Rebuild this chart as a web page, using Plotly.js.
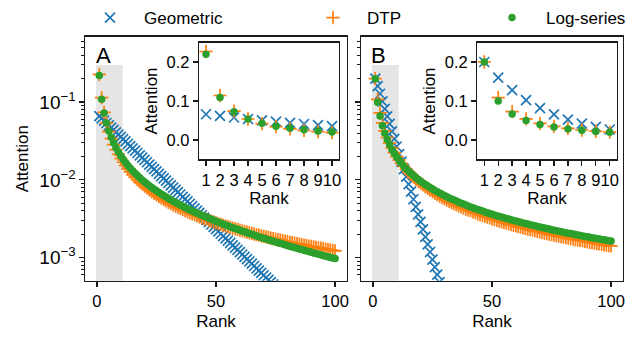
<!DOCTYPE html>
<html><head><meta charset="utf-8">
<script src="https://cdn.plot.ly/plotly-3.0.1.min.js"></script>
<style>html,body{margin:0;padding:0;background:#fff;}#chart{width:643px;height:339px;}</style>
</head><body><div id="chart"></div>
<script>
const rank = [1,2,3,4,5,6,7,8,9,10,11,12,13,14,15,16,17,18,19,20,
21,22,23,24,25,26,27,28,29,30,31,32,33,34,35,36,37,38,39,40,
41,42,43,44,45,46,47,48,49,50,51,52,53,54,55,56,57,58,59,60,
61,62,63,64,65,66,67,68,69,70,71,72,73,74,75,76,77,78,79,80,
81,82,83,84,85,86,87,88,89,90,91,92,93,94,95,96,97,98,99,100];

const geomA = [0.0660,0.0616,0.0576,0.0538,0.0502,0.0469,0.0438,0.0409,0.0382,0.0357,
0.03334,0.03114,0.02909,0.02716,0.02537,0.02370,0.02213,0.02067,0.01931,0.01803,
0.01684,0.01573,0.01469,0.01372,0.01282,0.01197,0.01118,0.01044,0.009754,0.009110,
0.008509,0.007948,0.007423,0.006933,0.006476,0.006048,0.005649,0.005277,0.004928,0.004603,
0.004299,0.004016,0.003750,0.003503,0.003272,0.003056,0.002854,0.002666,0.002490,0.002325,
0.002172,0.002028,0.001895,0.001770,0.001653,0.001544,0.001441,0.001346,0.001258,0.001175,
0.001097,0.001025,0.000957,0.000894,0.000835,0.000780,0.000728,0.000680,0.000635,0.000593,
0.000554,0.000518,0.000484,0.000452,0.000422,0.000394,0.000368,0.000344,0.000321,0.000300,
0.000280,0.000262,0.000244,0.000228,0.000213,0.000199,0.000186,0.000174,0.000162,0.000152,
0.000142,0.000132,0.000123,0.000115,0.000108,0.000101,0.0000939,0.0000877,0.0000819,0.0000765];

const dtpA = [0.2270,0.1141,0.07388,0.05375,0.04181,0.03397,0.02845,0.02438,0.02127,0.01882,
0.01684,0.01521,0.01385,0.01269,0.01170,0.01084,0.01010,0.009437,0.008855,0.008333,
0.007864,0.007442,0.007060,0.006712,0.006394,0.006103,0.005836,0.005590,0.005362,0.005150,
0.004954,0.004771,0.004599,0.004439,0.004288,0.004147,0.004014,0.003889,0.003770,0.003658,
0.003552,0.003452,0.003356,0.003266,0.003179,0.003097,0.003019,0.002944,0.002872,0.002804,
0.002739,0.002676,0.002616,0.002558,0.002503,0.002449,0.002398,0.002349,0.002301,0.002256,
0.002212,0.002169,0.002128,0.002089,0.002050,0.002013,0.001977,0.001942,0.001909,0.001876,
0.001845,0.001814,0.001784,0.001755,0.001727,0.001700,0.001674,0.001648,0.001623,0.001599,
0.001575,0.001552,0.001530,0.001509,0.001488,0.001467,0.001447,0.001427,0.001408,0.001389,
0.001371,0.001353,0.001336,0.001319,0.001302,0.001286,0.001270,0.001254,0.001239,0.001224];

const logA = [0.2200,0.1091,0.07213,0.05365,0.04257,0.03518,0.02991,0.02595,0.02288,0.02042,
0.01841,0.01674,0.01533,0.01411,0.01306,0.01215,0.01134,0.01062,0.009978,0.009402,
0.008880,0.008407,0.007975,0.007580,0.007217,0.006882,0.006573,0.006286,0.006019,0.005771,
0.005538,0.005321,0.005118,0.004926,0.004746,0.004576,0.004416,0.004264,0.004121,0.003985,
0.003855,0.003733,0.003616,0.003505,0.003399,0.003297,0.003201,0.003108,0.003020,0.002935,
0.002854,0.002776,0.002701,0.002629,0.002560,0.002494,0.002430,0.002368,0.002309,0.002252,
0.002197,0.002143,0.002092,0.002042,0.001994,0.001948,0.001903,0.001860,0.001818,0.001777,
0.001738,0.001699,0.001662,0.001626,0.001591,0.001558,0.001525,0.001493,0.001462,0.001432,
0.001402,0.001374,0.001346,0.001319,0.001293,0.001267,0.001242,0.001218,0.001195,0.001172,
0.001149,0.001127,0.001106,0.001085,0.001065,0.001045,0.001026,0.001007,0.0009887,0.0009707];

const geomB = [0.2000,0.1600,0.1280,0.1024,0.08192,0.06554,0.05243,0.04194,0.03355,0.02684,
0.02147,0.01718,0.01374,0.01100,0.008796,0.007037,0.005629,0.004504,0.003603,0.002882,
0.002306,0.001845,0.001476,0.001181,0.0009445,0.0007556,0.0006045,0.0004836,0.0003869,0.0003095,
2.476e-4,1.981e-4,1.585e-4,1.268e-4,1.014e-4,8.11e-5,6.49e-5,5.19e-5,4.15e-5,3.32e-5,
2.66e-5,2.13e-5,1.70e-5,1.36e-5,1.09e-5,8.7e-6,7.0e-6,5.6e-6,4.5e-6,3.6e-6,
2.9e-6,2.3e-6,1.8e-6,1.5e-6,1.2e-6,9.4e-7,7.5e-7,6.0e-7,4.8e-7,3.8e-7,
3.1e-7,2.5e-7,2.0e-7,1.6e-7,1.3e-7,1.0e-7,8.0e-8,6.4e-8,5.1e-8,4.1e-8,
3.3e-8,2.6e-8,2.1e-8,1.7e-8,1.3e-8,1.1e-8,8.6e-9,6.9e-9,5.5e-9,4.4e-9,
3.5e-9,2.8e-9,2.3e-9,1.8e-9,1.4e-9,1.2e-9,9.2e-10,7.4e-10,5.9e-10,4.7e-10,
3.8e-10,3.0e-10,2.4e-10,1.9e-10,1.5e-10,1.2e-10,9.9e-11,7.9e-11,6.3e-11,5.1e-11];

const dtpB = [0.2000,0.1085,0.07278,0.05406,0.04267,0.03504,0.02960,0.02555,0.02241,0.01993,
0.01791,0.01624,0.01484,0.01364,0.01262,0.01173,0.01094,0.01025,0.009640,0.009092,
0.008598,0.008152,0.007746,0.007376,0.007038,0.006728,0.006442,0.006179,0.005934,0.005707,
0.005495,0.005297,0.005112,0.004939,0.004776,0.004624,0.004480,0.004344,0.004215,0.004094,
0.003979,0.003869,0.003765,0.003666,0.003572,0.003482,0.003396,0.003314,0.003236,0.003161,
0.003090,0.003021,0.002955,0.002892,0.002831,0.002772,0.002716,0.002662,0.002609,0.002559,
0.002510,0.002464,0.002418,0.002374,0.002332,0.002291,0.002251,0.002213,0.002176,0.002140,
0.002105,0.002071,0.002038,0.002006,0.001975,0.001945,0.001916,0.001887,0.001859,0.001832,
0.001806,0.001780,0.001755,0.001731,0.001707,0.001684,0.001662,0.001640,0.001618,0.001597,
0.001577,0.001557,0.001537,0.001518,0.001500,0.001482,0.001464,0.001446,0.001429,0.001413];

const logB = [0.2000,0.09979,0.06639,0.04969,0.03967,0.03299,0.02822,0.02464,0.02186,0.01963,
0.01781,0.01629,0.01501,0.01391,0.01295,0.01212,0.01138,0.01073,0.01014,0.009616,
0.009139,0.008706,0.008310,0.007947,0.007614,0.007306,0.007021,0.006756,0.006510,0.006280,
0.006065,0.005863,0.005674,0.005495,0.005327,0.005169,0.005019,0.004877,0.004742,0.004614,
0.004492,0.004376,0.004265,0.004160,0.004059,0.003963,0.003870,0.003782,0.003697,0.003616,
0.003537,0.003462,0.003390,0.003320,0.003253,0.003189,0.003126,0.003066,0.003008,0.002951,
0.002897,0.002845,0.002794,0.002744,0.002696,0.002650,0.002605,0.002562,0.002519,0.002478,
0.002438,0.002399,0.002362,0.002325,0.002289,0.002254,0.002221,0.002188,0.002155,0.002124,
0.002094,0.002064,0.002035,0.002006,0.001979,0.001952,0.001925,0.001899,0.001874,0.001850,
0.001826,0.001802,0.001779,0.001756,0.001734,0.001713,0.001692,0.001671,0.001651,0.001631];

const seriesNames = ['Geometric', 'DTP', 'Log-series'];
const mainRankTicks = [0, 50, 100];
const insetRankTicks = [1,2,3,4,5,6,7,8,9,10];
const insetAttnTicks = [0.0, 0.1, 0.2];
const insetN = 10;

const BLUE = '#1f77b4', ORANGE = '#ff7f0e', GREEN = '#2ca02c';
const markerStyles = [
  {symbol: 'x-thin-open', size: 10, color: BLUE, line: {color: BLUE, width: 1.7}},
  {symbol: 'cross-thin-open', size: 9.5, color: ORANGE, line: {color: ORANGE, width: 1.7}},
  {symbol: 'circle', size: 7.5, color: GREEN, line: {width: 0}}
];
const legendIds = ['legend', 'legend2', 'legend3'];

function tr(x, y, i, xa, ya, show) {
  return {type: 'scatter', mode: 'markers', x: x, y: y, name: seriesNames[i],
    marker: markerStyles[i], xaxis: xa, yaxis: ya, showlegend: show,
    legend: legendIds[i], hoverinfo: 'skip', cliponaxis: true};
}

const panelA = [geomA, dtpA, logA];
const panelB = [geomB, dtpB, logB];
const traces = [];
panelA.forEach((s, i) => traces.push(tr(rank, s, i, 'x', 'y', true)));
panelB.forEach((s, i) => traces.push(tr(rank, s, i, 'x2', 'y2', false)));
panelA.forEach((s, i) => traces.push(tr(rank.slice(0, insetN), s.slice(0, insetN), i, 'x3', 'y3', false)));
panelB.forEach((s, i) => traces.push(tr(rank.slice(0, insetN), s.slice(0, insetN), i, 'x4', 'y4', false)));

const FONT = '"Liberation Sans", Arial, Helvetica, sans-serif';
const TXT = '#000';
const LINE = '#1a1a1a';

function mainX(domain, anchor) {
  return {domain: domain, anchor: anchor, range: [-5, 105], tickvals: mainRankTicks,
    ticks: 'outside', ticklen: 5, tickwidth: 1.3, tickcolor: LINE,
    showline: true, linecolor: LINE, linewidth: 1.3, mirror: true,
    showgrid: false, zeroline: false, tickfont: {size: 16.5, color: TXT},
    title: {text: 'Rank', font: {size: 17, color: TXT}, standoff: 6}};
}
function mainY(domain, anchor, labels) {
  return {domain: domain, anchor: anchor, type: 'log', range: [-3.297, -0.158], dtick: 1,
    exponentformat: 'power', showticklabels: labels,
    ticks: 'outside', ticklen: 5, tickwidth: 1.3, tickcolor: LINE,
    minor: {ticks: 'outside', ticklen: 3, tickwidth: 1, tickcolor: LINE, dtick: 'D1', showgrid: false},
    showline: true, linecolor: LINE, linewidth: 1.3, mirror: true,
    showgrid: false, zeroline: false, tickfont: {size: 15.2, color: TXT},
    title: {text: labels ? 'Attention' : '', font: {size: 17, color: TXT}, standoff: 6}};
}
function insetX(domain, anchor) {
  return {domain: domain, anchor: anchor, range: [0.5, 10.5], tickvals: insetRankTicks, tickangle: 0,
    ticks: 'outside', ticklen: 5, tickwidth: 1.3, tickcolor: LINE,
    showline: true, linecolor: LINE, linewidth: 1.3, mirror: true,
    showgrid: false, zeroline: false, tickfont: {size: 16.5, color: TXT},
    title: {text: 'Rank', font: {size: 17, color: TXT}, standoff: 4}};
}
function insetY(domain, anchor) {
  return {domain: domain, anchor: anchor, range: [-0.05, 0.25], tickvals: insetAttnTicks, tickformat: '.1f',
    ticks: 'outside', ticklen: 5, tickwidth: 1.3, tickcolor: LINE,
    showline: true, linecolor: LINE, linewidth: 1.3, mirror: true,
    showgrid: false, zeroline: false, tickfont: {size: 16.5, color: TXT},
    title: {text: 'Attention', font: {size: 17, color: TXT}, standoff: 4}};
}

const yMain = [0.174, 0.9027];
const yInset = [0.536, 0.885];

function legendAt(xpx) {
  return {x: xpx / 643, y: 0.9587, xanchor: 'left', yanchor: 'middle', orientation: 'h',
    font: {size: 17, color: TXT, family: FONT}, bgcolor: 'rgba(0,0,0,0)', borderwidth: 0, itemwidth: 58};
}

function shade(xa, ya) {
  return {type: 'rect', xref: xa, yref: ya, x0: -0.4, x1: 10.8, y0: 1e-5, y1: 0.3,
    fillcolor: '#e5e5e5', line: {width: 0}, layer: 'below'};
}

const layout = {
  width: 643, height: 339, margin: {l: 0, r: 0, t: 0, b: 0},
  paper_bgcolor: '#fff', plot_bgcolor: '#fff',
  font: {family: FONT, color: TXT, size: 16},
  xaxis: mainX([0.1322, 0.5397], 'y'),
  yaxis: mainY(yMain, 'x', true),
  xaxis2: mainX([0.5614, 0.9689], 'y2'),
  yaxis2: mainY(yMain, 'x2', false),
  xaxis3: insetX([0.3095, 0.5272], 'y3'),
  yaxis3: insetY(yInset, 'x3'),
  xaxis4: insetX([0.7423, 0.9591], 'y4'),
  yaxis4: insetY(yInset, 'x4'),
  legend: legendAt(76), legend2: legendAt(299), legend3: legendAt(478),
  shapes: [shade('x', 'y'), shade('x2', 'y2')],
  annotations: [
    {text: 'A', xref: 'paper', yref: 'paper', x: 94 / 643, y: (339 - 52) / 339, xanchor: 'left', yanchor: 'middle', showarrow: false, font: {size: 22, color: TXT}},
    {text: 'B', xref: 'paper', yref: 'paper', x: 369 / 643, y: (339 - 52) / 339, xanchor: 'left', yanchor: 'middle', showarrow: false, font: {size: 22, color: TXT}}
  ],
  showlegend: true
};

Plotly.newPlot('chart', traces, layout, {staticPlot: true, displayModeBar: false});
</script></body></html>
